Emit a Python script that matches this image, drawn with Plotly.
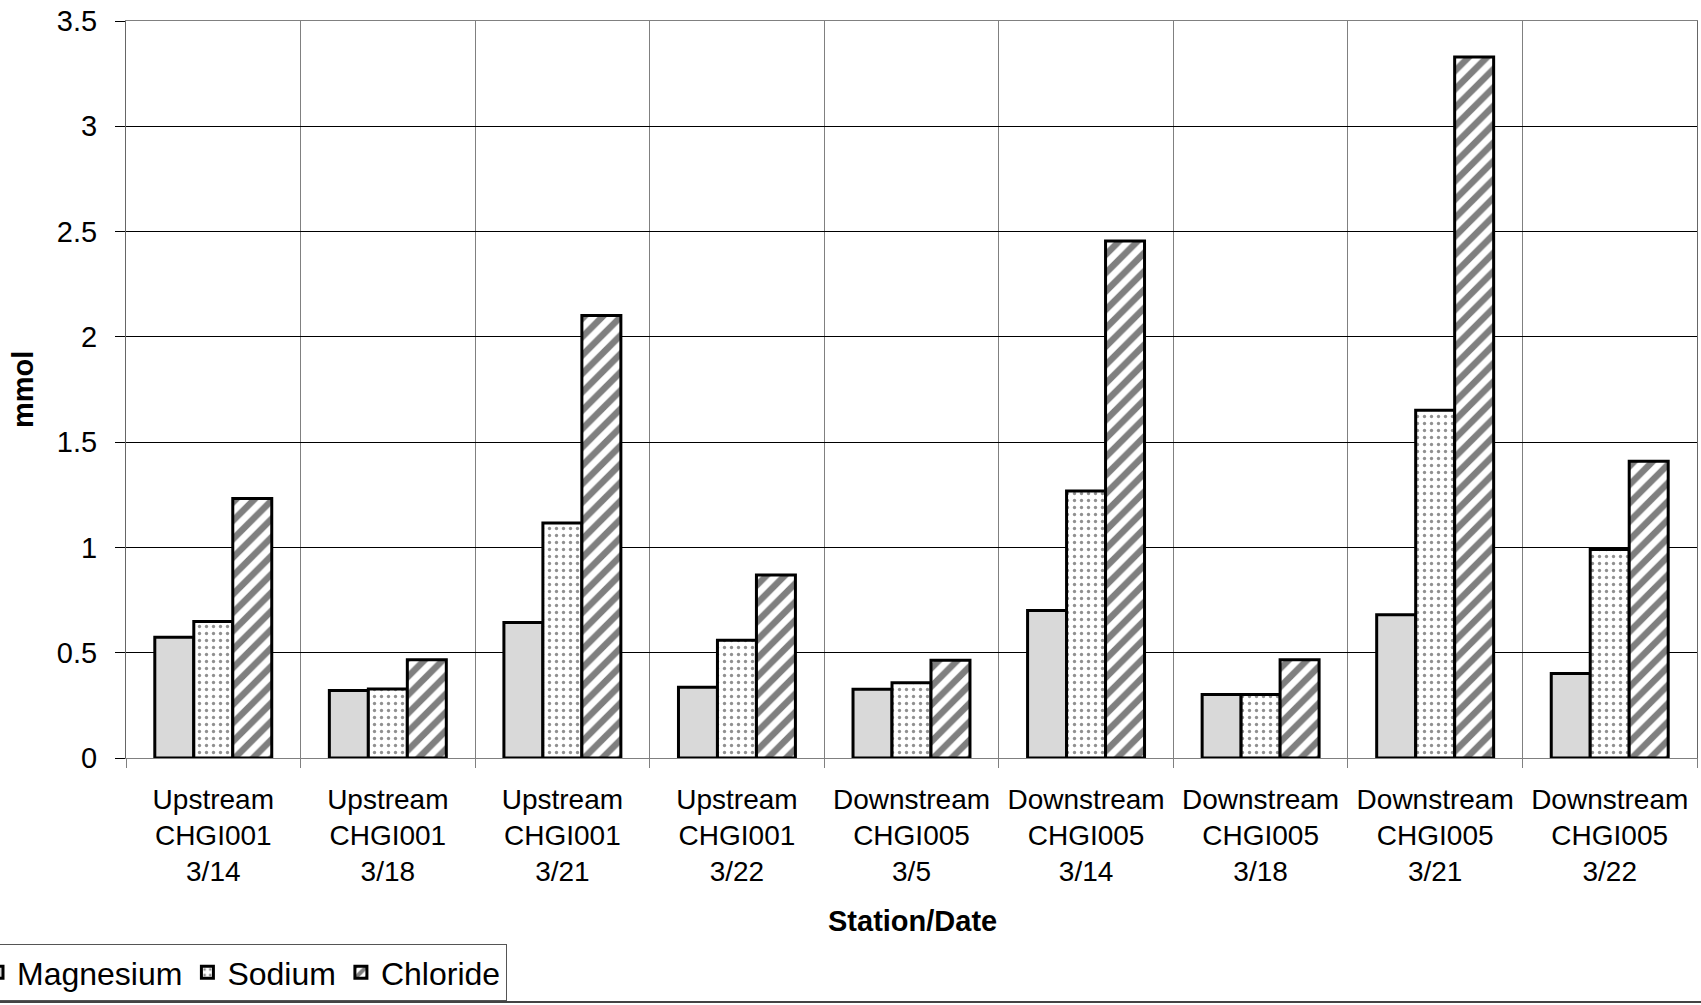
import plotly.graph_objects as go

# Station / sampling date categories
stations = [
    "Upstream<br>CHGI001<br>3/14",
    "Upstream<br>CHGI001<br>3/18",
    "Upstream<br>CHGI001<br>3/21",
    "Upstream<br>CHGI001<br>3/22",
    "Downstream<br>CHGI005<br>3/5",
    "Downstream<br>CHGI005<br>3/14",
    "Downstream<br>CHGI005<br>3/18",
    "Downstream<br>CHGI005<br>3/21",
    "Downstream<br>CHGI005<br>3/22",
]

# Ion concentrations (mmol)
magnesium = [0.573, 0.321, 0.644, 0.336, 0.326, 0.701, 0.302, 0.680, 0.401]
sodium = [0.648, 0.328, 1.116, 0.559, 0.357, 1.268, 0.302, 1.651, 0.990]
chloride = [1.232, 0.467, 2.101, 0.869, 0.464, 2.455, 0.467, 3.329, 1.409]

y_ticks = [0, 0.5, 1, 1.5, 2, 2.5, 3, 3.5]

W, H = 1701, 1005
ML, MR, MT, MB = 126, 4, 21, 247
PW, PH = W - ML - MR, H - MT - MB

FONT = "Liberation Sans, Arial, sans-serif"
edge = dict(color="black", width=3)

fig = go.Figure()
fig.add_trace(go.Bar(
    name="Magnesium", x=stations, y=magnesium,
    marker=dict(color="#d9d9d9", line=edge),
))
fig.add_trace(go.Bar(
    name="Sodium", x=stations, y=sodium,
    marker=dict(color="white", line=edge,
                pattern=dict(shape=".", fgcolor="#222222", bgcolor="white",
                             size=7, solidity=0.18)),
))
fig.add_trace(go.Bar(
    name="Chloride", x=stations, y=chloride,
    marker=dict(color="white", line=edge,
                pattern=dict(shape="/", fgcolor="black", bgcolor="white",
                             size=13, solidity=0.5)),
))


def px_x(p):
    return (p - ML) / PW


def px_y(p):
    return (H - MB - p) / PH


fig.update_layout(
    width=W, height=H,
    margin=dict(l=ML, r=MR, t=MT, b=MB, autoexpand=False),
    paper_bgcolor="white", plot_bgcolor="white",
    barmode="group", bargap=0.33, bargroupgap=0,
    font=dict(family=FONT, size=28, color="black"),
    showlegend=True,
    legend=dict(
        orientation="h", x=px_x(-24), xanchor="left",
        y=px_y(944), yanchor="top",
        bordercolor="#555555", borderwidth=1, bgcolor="white",
        font=dict(family=FONT, size=32, color="black"),
        itemclick=False, tracegroupgap=0,
    ),
    xaxis=dict(
        type="category", tickson="boundaries",
        ticks="outside", ticklen=9, tickcolor="#808080", tickwidth=1,
        showgrid=True, gridcolor="#808080", gridwidth=1,
        showline=True, linecolor="#808080", linewidth=1, mirror=True,
        tickfont=dict(family=FONT, size=28, color="black"),
        ticklabelstandoff=16,
    ),
    yaxis=dict(
        range=[0, 3.5], tickvals=y_ticks,
        ticks="outside", ticklen=10, tickcolor="black", tickwidth=1,
        showgrid=True, gridcolor="black", gridwidth=1, zeroline=False,
        showline=True, linecolor="#666666", linewidth=1, mirror=True,
        tickfont=dict(family=FONT, size=29, color="black"),
        ticklabelstandoff=12,
    ),
    annotations=[
        dict(text="<b>Station/Date</b>", xref="paper", yref="paper",
             x=px_x(912), y=px_y(921), xanchor="center", yanchor="middle",
             showarrow=False,
             font=dict(family=FONT, size=29, color="black")),
        dict(text="<b>mmol</b>", xref="paper", yref="paper",
             x=px_x(23), y=px_y(390), xanchor="center", yanchor="middle",
             showarrow=False, textangle=-90,
             font=dict(family=FONT, size=29, color="black")),
    ],
    shapes=[
        dict(type="line", xref="paper", yref="paper",
             x0=px_x(0), x1=px_x(W), y0=px_y(1002), y1=px_y(1002),
             line=dict(color="#444444", width=2)),
    ],
)

fig.write_html("out.html")
